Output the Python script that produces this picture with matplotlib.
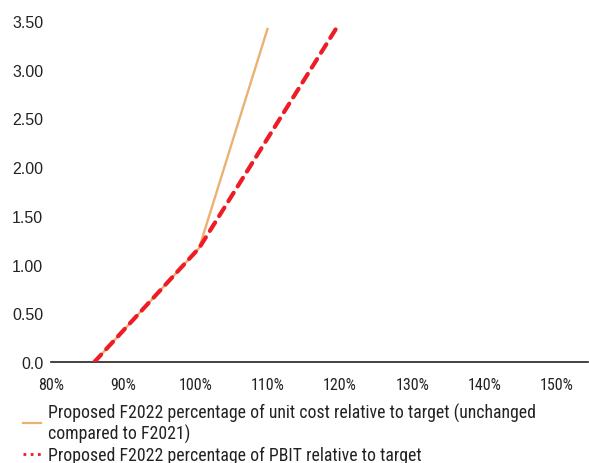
import matplotlib
matplotlib.use("Agg")
import matplotlib.pyplot as plt
from matplotlib.lines import Line2D
from matplotlib.ticker import FuncFormatter
from matplotlib import font_manager

plt.rcParams['font.family'] = ['Liberation Sans', 'DejaVu Sans']

# pick a condensed grotesque for the legend and x labels
installed = {f.name for f in font_manager.fontManager.ttflist}
narrow = next((n for n in ['Liberation Sans Narrow', 'Arial Narrow', 'Roboto Condensed',
                           'Archivo Narrow', 'Barlow Semi Condensed']
               if n in installed), 'Liberation Sans')

# payout multiplier curves
unit_cost_x = [0.86, 1.005, 1.10]
unit_cost_y = [0.0, 1.17, 3.43]
pbit_x = [0.86, 1.005, 1.196]
pbit_y = [0.0, 1.17, 3.44]

x_ticks = [0.8, 0.9, 1.0, 1.1, 1.2, 1.3, 1.4, 1.5]
y_ticks = [0.0, 0.5, 1.0, 1.5, 2.0, 2.5, 3.0, 3.5]
y_labels = ['0.0', '0.50', '1.00', '1.50', '2.00', '2.50', '3.00', '3.50']

label_unit = 'Proposed F2022 percentage of unit cost relative to target (unchanged\ncompared to F2021)'
label_pbit = 'Proposed F2022 percentage of PBIT relative to target'

orange = '#EAB272'
red = '#EE1C25'
ink = '#222222'

fig = plt.figure(figsize=(5.89, 4.64), dpi=100)
ax = fig.add_axes([51/589, 1 - 363/464, 537/589, (363 - 22)/464])

ax.plot(unit_cost_x, unit_cost_y, color=orange, lw=1.7, solid_capstyle='butt', zorder=2)
ax.plot(pbit_x, pbit_y, color=red, lw=3.0, dashes=(2.4, 1.8),
        dash_capstyle='round', zorder=3)

ax.set_xlim(0.8, 1.543)
ax.set_ylim(0, 3.5)
ax.set_xticks(x_ticks)
ax.xaxis.set_major_formatter(FuncFormatter(lambda v, p: f'{v*100:.0f}%'))
ax.set_yticks(y_ticks)
ax.set_yticklabels(y_labels)

for s in ['top', 'right', 'left']:
    ax.spines[s].set_visible(False)
ax.spines['bottom'].set_linewidth(1.2)
ax.spines['bottom'].set_color(ink)
ax.tick_params(axis='both', length=0, colors=ink)
ax.tick_params(axis='x', pad=10.5)
ax.tick_params(axis='y', labelsize=11.5, pad=5.5)
for t in ax.get_xticklabels():
    t.set_fontfamily(narrow)
    t.set_fontsize(11.5)

handles = [
    Line2D([], [], color=orange, lw=1.6),
    Line2D([], [], color=red, lw=2.0, linestyle=(0, (1, 1.6))),
]
leg = fig.legend(handles, [label_unit, label_pbit], loc='upper left',
                 bbox_to_anchor=(0.024, 0.149), frameon=False,
                 prop={'family': narrow, 'size': 12.75},
                 handlelength=1.02, handletextpad=0.42, labelspacing=0.2,
                 borderpad=0, labelcolor=ink)
for t in leg.get_texts():
    t.set_linespacing(1.1)

fig.savefig('out.png', dpi=100)
